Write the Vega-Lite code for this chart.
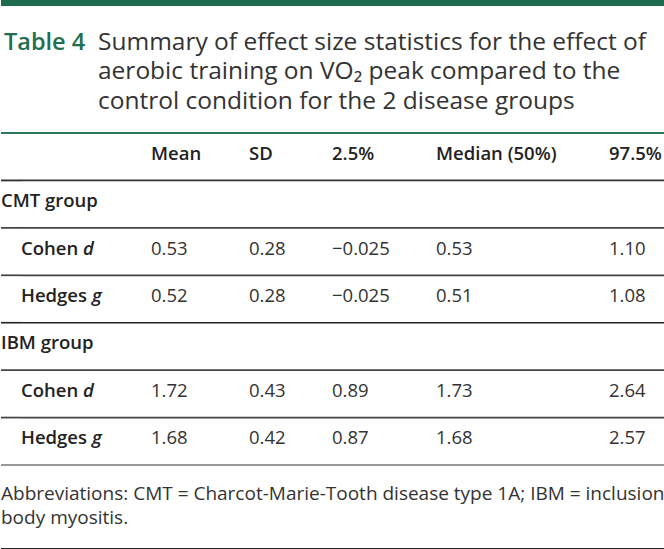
{
  "$schema": "https://vega.github.io/schema/vega-lite/v6.json",
  "padding": 0,
  "spacing": 0,
  "background": "#ffffff",
  "config": {
    "view": {"stroke": null},
    "font": "Open Sans",
    "text": {"font": "Open Sans"}
  },
  "datasets": {
    "title": [
      {"line": 1, "part": "label", "text": "Table 4"},
      {"line": 1, "part": "caption", "text": "Summary of effect size statistics for the effect of"},
      {"line": 2, "part": "caption", "text": "aerobic training on VO₂ peak compared to the"},
      {"line": 3, "part": "caption", "text": "control condition for the 2 disease groups"}
    ],
    "header": [
      {"row": "h", "col": "mean", "label": "Mean"},
      {"row": "h", "col": "sd", "label": "SD"},
      {"row": "h", "col": "p025", "label": "2.5%"},
      {"row": "h", "col": "median", "label": "Median (50%)"},
      {"row": "h", "col": "p975", "label": "97.5%"}
    ],
    "groups": [
      {"row": "cmt", "label": "CMT group"},
      {"row": "ibm", "label": "IBM group"}
    ],
    "stats": [
      {"row": "cmt_d", "measure": "Cohen", "letter": "d", "mean": 0.53, "sd": 0.28, "p025": -0.025, "median": 0.53, "p975": 1.10},
      {"row": "cmt_g", "measure": "Hedges", "letter": "g", "mean": 0.52, "sd": 0.28, "p025": -0.025, "median": 0.51, "p975": 1.08},
      {"row": "ibm_d", "measure": "Cohen", "letter": "d", "mean": 1.72, "sd": 0.43, "p025": 0.89, "median": 1.73, "p975": 2.64},
      {"row": "ibm_g", "measure": "Hedges", "letter": "g", "mean": 1.68, "sd": 0.42, "p025": 0.87, "median": 1.68, "p975": 2.57}
    ],
    "lines": [
      {"row": "h", "kind": "top"},
      {"row": "h", "kind": "head"},
      {"row": "cmt", "kind": "thin"},
      {"row": "cmt_d", "kind": "thin"},
      {"row": "cmt_g", "kind": "thick"},
      {"row": "ibm", "kind": "thin"},
      {"row": "ibm_d", "kind": "thin"},
      {"row": "ibm_g", "kind": "end"}
    ],
    "note": [
      {"line": 1, "text": "Abbreviations: CMT = Charcot-Marie-Tooth disease type 1A; IBM = inclusion"},
      {"line": 2, "text": "body myositis."}
    ],
    "bar": [{"part": "bar"}]
  },
  "vconcat": [
    {
      "width": 664, "height": 6,
      "data": {"name": "bar"},
      "mark": {"type": "rect", "color": "#1d6b4d"},
      "encoding": {"x": {"value": 0}, "x2": {"value": "width"}, "y": {"value": 0}, "y2": {"value": "height"}}
    },
    {
      "spacing": 0,
      "bounds": "flush",
      "hconcat": [
        {
          "width": 97, "height": 126,
          "data": {"name": "title"},
          "transform": [{"filter": "datum.part === 'label'"}],
          "mark": {"type": "text", "align": "left", "baseline": "alphabetic", "font": "Open Sans", "fontSize": 23.5, "fontWeight": 600, "color": "#1f6e4f"},
          "encoding": {
            "x": {"value": 3},
            "y": {"field": "line", "type": "quantitative", "scale": {"domain": [-0.4915, 3.7797], "reverse": true, "zero": false, "nice": false}, "axis": null},
            "text": {"field": "text"}
          }
        },
        {
          "width": 567, "height": 126,
          "data": {"name": "title"},
          "transform": [{"filter": "datum.part === 'caption'"}],
          "mark": {"type": "text", "align": "left", "baseline": "alphabetic", "font": "Open Sans", "fontSize": 24.5, "color": "#333333"},
          "encoding": {
            "x": {"value": 0},
            "y": {"field": "line", "type": "quantitative", "scale": {"domain": [-0.4915, 3.7797], "reverse": true, "zero": false, "nice": false}, "axis": null},
            "text": {"field": "text"}
          }
        }
      ]
    },
    {
      "spacing": 0,
      "bounds": "flush",
      "hconcat": [
        {
          "width": 20, "height": 332,
          "layer": [
            {"data": {"name": "lines"}, "transform": [{"filter": "datum.kind === 'top'"}], "mark": {"type": "rule"},
             "encoding": {"y": {"field": "row", "type": "nominal", "bandPosition": 0, "scale": {"type": "band", "domain": ["h", "cmt", "cmt_d", "cmt_g", "ibm", "ibm_d", "ibm_g"], "paddingInner": 0, "paddingOuter": 0}, "axis": null},
              "color": {"field": "kind", "type": "nominal", "scale": {"domain": ["top", "head", "thin", "thick", "end"], "range": ["#2b7a5a", "#333333", "#444444", "#222222", "#777777"]}, "legend": null},
              "strokeWidth": {"field": "kind", "type": "ordinal", "scale": {"domain": ["top", "head", "thin", "thick", "end"], "range": [2, 1.5, 1.5, 2, 2]}, "legend": null}}},
            {"data": {"name": "lines"}, "transform": [{"filter": "datum.kind !== 'top'"}], "mark": {"type": "rule"},
             "encoding": {"y": {"field": "row", "type": "nominal", "bandPosition": 1, "scale": {"type": "band", "domain": ["h", "cmt", "cmt_d", "cmt_g", "ibm", "ibm_d", "ibm_g"], "paddingInner": 0, "paddingOuter": 0}, "axis": null},
              "color": {"field": "kind", "type": "nominal", "scale": {"domain": ["top", "head", "thin", "thick", "end"], "range": ["#2b7a5a", "#333333", "#444444", "#222222", "#777777"]}, "legend": null},
              "strokeWidth": {"field": "kind", "type": "ordinal", "scale": {"domain": ["top", "head", "thin", "thick", "end"], "range": [2, 1.5, 1.5, 2, 2]}, "legend": null}}},
            {"data": {"name": "groups"}, "mark": {"type": "text", "align": "left", "baseline": "middle", "dy": -3, "font": "Open Sans", "fontSize": 18.5, "fontWeight": 600, "color": "#222222"},
             "encoding": {"x": {"value": 0}, "y": {"field": "row", "type": "nominal", "scale": {"type": "band", "domain": ["h", "cmt", "cmt_d", "cmt_g", "ibm", "ibm_d", "ibm_g"], "paddingInner": 0, "paddingOuter": 0}, "axis": null}, "text": {"field": "label"}}}
          ]
        },
        {
          "width": 130, "height": 332,
          "layer": [
            {"data": {"name": "lines"}, "transform": [{"filter": "datum.kind === 'top'"}], "mark": {"type": "rule"},
             "encoding": {"y": {"field": "row", "type": "nominal", "bandPosition": 0, "scale": {"type": "band", "domain": ["h", "cmt", "cmt_d", "cmt_g", "ibm", "ibm_d", "ibm_g"], "paddingInner": 0, "paddingOuter": 0}, "axis": null},
              "color": {"field": "kind", "type": "nominal", "scale": {"domain": ["top", "head", "thin", "thick", "end"], "range": ["#2b7a5a", "#333333", "#444444", "#222222", "#777777"]}, "legend": null},
              "strokeWidth": {"field": "kind", "type": "ordinal", "scale": {"domain": ["top", "head", "thin", "thick", "end"], "range": [2, 1.5, 1.5, 2, 2]}, "legend": null}}},
            {"data": {"name": "lines"}, "transform": [{"filter": "datum.kind !== 'top'"}], "mark": {"type": "rule"},
             "encoding": {"y": {"field": "row", "type": "nominal", "bandPosition": 1, "scale": {"type": "band", "domain": ["h", "cmt", "cmt_d", "cmt_g", "ibm", "ibm_d", "ibm_g"], "paddingInner": 0, "paddingOuter": 0}, "axis": null},
              "color": {"field": "kind", "type": "nominal", "scale": {"domain": ["top", "head", "thin", "thick", "end"], "range": ["#2b7a5a", "#333333", "#444444", "#222222", "#777777"]}, "legend": null},
              "strokeWidth": {"field": "kind", "type": "ordinal", "scale": {"domain": ["top", "head", "thin", "thick", "end"], "range": [2, 1.5, 1.5, 2, 2]}, "legend": null}}},
            {"data": {"name": "stats"}, "mark": {"type": "text", "align": "left", "baseline": "middle", "dy": -3, "font": "Open Sans", "fontSize": 18.5, "fontWeight": 600, "color": "#222222"},
             "encoding": {"x": {"value": 0}, "y": {"field": "row", "type": "nominal", "scale": {"type": "band", "domain": ["h", "cmt", "cmt_d", "cmt_g", "ibm", "ibm_d", "ibm_g"], "paddingInner": 0, "paddingOuter": 0}, "axis": null}, "text": {"field": "measure"}}},
            {"data": {"name": "stats"}, "mark": {"type": "text", "align": "left", "baseline": "middle", "dy": -3, "font": "Open Sans", "fontSize": 18.5, "fontWeight": 600, "fontStyle": "italic", "color": "#222222"},
             "encoding": {"x": {"field": "measure", "type": "nominal", "scale": {"type": "point", "domain": ["Cohen", "Hedges"], "range": [62, 71], "padding": 0}, "axis": null}, "y": {"field": "row", "type": "nominal", "scale": {"type": "band", "domain": ["h", "cmt", "cmt_d", "cmt_g", "ibm", "ibm_d", "ibm_g"], "paddingInner": 0, "paddingOuter": 0}, "axis": null}, "text": {"field": "letter"}}}
          ]
        },
        {
          "width": 98, "height": 332,
          "layer": [
            {"data": {"name": "lines"}, "transform": [{"filter": "datum.kind === 'top'"}], "mark": {"type": "rule"},
             "encoding": {"y": {"field": "row", "type": "nominal", "bandPosition": 0, "scale": {"type": "band", "domain": ["h", "cmt", "cmt_d", "cmt_g", "ibm", "ibm_d", "ibm_g"], "paddingInner": 0, "paddingOuter": 0}, "axis": null},
              "color": {"field": "kind", "type": "nominal", "scale": {"domain": ["top", "head", "thin", "thick", "end"], "range": ["#2b7a5a", "#333333", "#444444", "#222222", "#777777"]}, "legend": null},
              "strokeWidth": {"field": "kind", "type": "ordinal", "scale": {"domain": ["top", "head", "thin", "thick", "end"], "range": [2, 1.5, 1.5, 2, 2]}, "legend": null}}},
            {"data": {"name": "lines"}, "transform": [{"filter": "datum.kind !== 'top'"}], "mark": {"type": "rule"},
             "encoding": {"y": {"field": "row", "type": "nominal", "bandPosition": 1, "scale": {"type": "band", "domain": ["h", "cmt", "cmt_d", "cmt_g", "ibm", "ibm_d", "ibm_g"], "paddingInner": 0, "paddingOuter": 0}, "axis": null},
              "color": {"field": "kind", "type": "nominal", "scale": {"domain": ["top", "head", "thin", "thick", "end"], "range": ["#2b7a5a", "#333333", "#444444", "#222222", "#777777"]}, "legend": null},
              "strokeWidth": {"field": "kind", "type": "ordinal", "scale": {"domain": ["top", "head", "thin", "thick", "end"], "range": [2, 1.5, 1.5, 2, 2]}, "legend": null}}},
            {"data": {"name": "header"}, "transform": [{"filter": "datum.col === 'mean'"}], "mark": {"type": "text", "align": "left", "baseline": "middle", "dy": -3, "font": "Open Sans", "fontSize": 18.5, "fontWeight": 600, "color": "#222222"},
             "encoding": {"x": {"value": 0}, "y": {"field": "row", "type": "nominal", "scale": {"type": "band", "domain": ["h", "cmt", "cmt_d", "cmt_g", "ibm", "ibm_d", "ibm_g"], "paddingInner": 0, "paddingOuter": 0}, "axis": null}, "text": {"field": "label"}}},
            {"data": {"name": "stats"}, "mark": {"type": "text", "align": "left", "baseline": "middle", "dy": -3, "font": "Open Sans", "fontSize": 18.5, "color": "#333333"},
             "encoding": {"x": {"value": 0}, "y": {"field": "row", "type": "nominal", "scale": {"type": "band", "domain": ["h", "cmt", "cmt_d", "cmt_g", "ibm", "ibm_d", "ibm_g"], "paddingInner": 0, "paddingOuter": 0}, "axis": null}, "text": {"field": "mean", "type": "quantitative", "format": ".2f"}}}
          ]
        },
        {
          "width": 83, "height": 332,
          "layer": [
            {"data": {"name": "lines"}, "transform": [{"filter": "datum.kind === 'top'"}], "mark": {"type": "rule"},
             "encoding": {"y": {"field": "row", "type": "nominal", "bandPosition": 0, "scale": {"type": "band", "domain": ["h", "cmt", "cmt_d", "cmt_g", "ibm", "ibm_d", "ibm_g"], "paddingInner": 0, "paddingOuter": 0}, "axis": null},
              "color": {"field": "kind", "type": "nominal", "scale": {"domain": ["top", "head", "thin", "thick", "end"], "range": ["#2b7a5a", "#333333", "#444444", "#222222", "#777777"]}, "legend": null},
              "strokeWidth": {"field": "kind", "type": "ordinal", "scale": {"domain": ["top", "head", "thin", "thick", "end"], "range": [2, 1.5, 1.5, 2, 2]}, "legend": null}}},
            {"data": {"name": "lines"}, "transform": [{"filter": "datum.kind !== 'top'"}], "mark": {"type": "rule"},
             "encoding": {"y": {"field": "row", "type": "nominal", "bandPosition": 1, "scale": {"type": "band", "domain": ["h", "cmt", "cmt_d", "cmt_g", "ibm", "ibm_d", "ibm_g"], "paddingInner": 0, "paddingOuter": 0}, "axis": null},
              "color": {"field": "kind", "type": "nominal", "scale": {"domain": ["top", "head", "thin", "thick", "end"], "range": ["#2b7a5a", "#333333", "#444444", "#222222", "#777777"]}, "legend": null},
              "strokeWidth": {"field": "kind", "type": "ordinal", "scale": {"domain": ["top", "head", "thin", "thick", "end"], "range": [2, 1.5, 1.5, 2, 2]}, "legend": null}}},
            {"data": {"name": "header"}, "transform": [{"filter": "datum.col === 'sd'"}], "mark": {"type": "text", "align": "left", "baseline": "middle", "dy": -3, "font": "Open Sans", "fontSize": 18.5, "fontWeight": 600, "color": "#222222"},
             "encoding": {"x": {"value": 0}, "y": {"field": "row", "type": "nominal", "scale": {"type": "band", "domain": ["h", "cmt", "cmt_d", "cmt_g", "ibm", "ibm_d", "ibm_g"], "paddingInner": 0, "paddingOuter": 0}, "axis": null}, "text": {"field": "label"}}},
            {"data": {"name": "stats"}, "mark": {"type": "text", "align": "left", "baseline": "middle", "dy": -3, "font": "Open Sans", "fontSize": 18.5, "color": "#333333"},
             "encoding": {"x": {"value": 0}, "y": {"field": "row", "type": "nominal", "scale": {"type": "band", "domain": ["h", "cmt", "cmt_d", "cmt_g", "ibm", "ibm_d", "ibm_g"], "paddingInner": 0, "paddingOuter": 0}, "axis": null}, "text": {"field": "sd", "type": "quantitative", "format": ".2f"}}}
          ]
        },
        {
          "width": 104, "height": 332,
          "layer": [
            {"data": {"name": "lines"}, "transform": [{"filter": "datum.kind === 'top'"}], "mark": {"type": "rule"},
             "encoding": {"y": {"field": "row", "type": "nominal", "bandPosition": 0, "scale": {"type": "band", "domain": ["h", "cmt", "cmt_d", "cmt_g", "ibm", "ibm_d", "ibm_g"], "paddingInner": 0, "paddingOuter": 0}, "axis": null},
              "color": {"field": "kind", "type": "nominal", "scale": {"domain": ["top", "head", "thin", "thick", "end"], "range": ["#2b7a5a", "#333333", "#444444", "#222222", "#777777"]}, "legend": null},
              "strokeWidth": {"field": "kind", "type": "ordinal", "scale": {"domain": ["top", "head", "thin", "thick", "end"], "range": [2, 1.5, 1.5, 2, 2]}, "legend": null}}},
            {"data": {"name": "lines"}, "transform": [{"filter": "datum.kind !== 'top'"}], "mark": {"type": "rule"},
             "encoding": {"y": {"field": "row", "type": "nominal", "bandPosition": 1, "scale": {"type": "band", "domain": ["h", "cmt", "cmt_d", "cmt_g", "ibm", "ibm_d", "ibm_g"], "paddingInner": 0, "paddingOuter": 0}, "axis": null},
              "color": {"field": "kind", "type": "nominal", "scale": {"domain": ["top", "head", "thin", "thick", "end"], "range": ["#2b7a5a", "#333333", "#444444", "#222222", "#777777"]}, "legend": null},
              "strokeWidth": {"field": "kind", "type": "ordinal", "scale": {"domain": ["top", "head", "thin", "thick", "end"], "range": [2, 1.5, 1.5, 2, 2]}, "legend": null}}},
            {"data": {"name": "header"}, "transform": [{"filter": "datum.col === 'p025'"}], "mark": {"type": "text", "align": "left", "baseline": "middle", "dy": -3, "font": "Open Sans", "fontSize": 18.5, "fontWeight": 600, "color": "#222222"},
             "encoding": {"x": {"value": 0}, "y": {"field": "row", "type": "nominal", "scale": {"type": "band", "domain": ["h", "cmt", "cmt_d", "cmt_g", "ibm", "ibm_d", "ibm_g"], "paddingInner": 0, "paddingOuter": 0}, "axis": null}, "text": {"field": "label"}}},
            {"data": {"name": "stats"}, "mark": {"type": "text", "align": "left", "baseline": "middle", "dy": -3, "font": "Open Sans", "fontSize": 18.5, "color": "#333333"},
             "encoding": {"x": {"value": 0}, "y": {"field": "row", "type": "nominal", "scale": {"type": "band", "domain": ["h", "cmt", "cmt_d", "cmt_g", "ibm", "ibm_d", "ibm_g"], "paddingInner": 0, "paddingOuter": 0}, "axis": null}, "text": {"field": "p025", "type": "quantitative", "format": "~g"}}}
          ]
        },
        {
          "width": 173, "height": 332,
          "layer": [
            {"data": {"name": "lines"}, "transform": [{"filter": "datum.kind === 'top'"}], "mark": {"type": "rule"},
             "encoding": {"y": {"field": "row", "type": "nominal", "bandPosition": 0, "scale": {"type": "band", "domain": ["h", "cmt", "cmt_d", "cmt_g", "ibm", "ibm_d", "ibm_g"], "paddingInner": 0, "paddingOuter": 0}, "axis": null},
              "color": {"field": "kind", "type": "nominal", "scale": {"domain": ["top", "head", "thin", "thick", "end"], "range": ["#2b7a5a", "#333333", "#444444", "#222222", "#777777"]}, "legend": null},
              "strokeWidth": {"field": "kind", "type": "ordinal", "scale": {"domain": ["top", "head", "thin", "thick", "end"], "range": [2, 1.5, 1.5, 2, 2]}, "legend": null}}},
            {"data": {"name": "lines"}, "transform": [{"filter": "datum.kind !== 'top'"}], "mark": {"type": "rule"},
             "encoding": {"y": {"field": "row", "type": "nominal", "bandPosition": 1, "scale": {"type": "band", "domain": ["h", "cmt", "cmt_d", "cmt_g", "ibm", "ibm_d", "ibm_g"], "paddingInner": 0, "paddingOuter": 0}, "axis": null},
              "color": {"field": "kind", "type": "nominal", "scale": {"domain": ["top", "head", "thin", "thick", "end"], "range": ["#2b7a5a", "#333333", "#444444", "#222222", "#777777"]}, "legend": null},
              "strokeWidth": {"field": "kind", "type": "ordinal", "scale": {"domain": ["top", "head", "thin", "thick", "end"], "range": [2, 1.5, 1.5, 2, 2]}, "legend": null}}},
            {"data": {"name": "header"}, "transform": [{"filter": "datum.col === 'median'"}], "mark": {"type": "text", "align": "left", "baseline": "middle", "dy": -3, "font": "Open Sans", "fontSize": 18.5, "fontWeight": 600, "color": "#222222"},
             "encoding": {"x": {"value": 0}, "y": {"field": "row", "type": "nominal", "scale": {"type": "band", "domain": ["h", "cmt", "cmt_d", "cmt_g", "ibm", "ibm_d", "ibm_g"], "paddingInner": 0, "paddingOuter": 0}, "axis": null}, "text": {"field": "label"}}},
            {"data": {"name": "stats"}, "mark": {"type": "text", "align": "left", "baseline": "middle", "dy": -3, "font": "Open Sans", "fontSize": 18.5, "color": "#333333"},
             "encoding": {"x": {"value": 0}, "y": {"field": "row", "type": "nominal", "scale": {"type": "band", "domain": ["h", "cmt", "cmt_d", "cmt_g", "ibm", "ibm_d", "ibm_g"], "paddingInner": 0, "paddingOuter": 0}, "axis": null}, "text": {"field": "median", "type": "quantitative", "format": ".2f"}}}
          ]
        },
        {
          "width": 56, "height": 332,
          "layer": [
            {"data": {"name": "lines"}, "transform": [{"filter": "datum.kind === 'top'"}], "mark": {"type": "rule"},
             "encoding": {"y": {"field": "row", "type": "nominal", "bandPosition": 0, "scale": {"type": "band", "domain": ["h", "cmt", "cmt_d", "cmt_g", "ibm", "ibm_d", "ibm_g"], "paddingInner": 0, "paddingOuter": 0}, "axis": null},
              "color": {"field": "kind", "type": "nominal", "scale": {"domain": ["top", "head", "thin", "thick", "end"], "range": ["#2b7a5a", "#333333", "#444444", "#222222", "#777777"]}, "legend": null},
              "strokeWidth": {"field": "kind", "type": "ordinal", "scale": {"domain": ["top", "head", "thin", "thick", "end"], "range": [2, 1.5, 1.5, 2, 2]}, "legend": null}}},
            {"data": {"name": "lines"}, "transform": [{"filter": "datum.kind !== 'top'"}], "mark": {"type": "rule"},
             "encoding": {"y": {"field": "row", "type": "nominal", "bandPosition": 1, "scale": {"type": "band", "domain": ["h", "cmt", "cmt_d", "cmt_g", "ibm", "ibm_d", "ibm_g"], "paddingInner": 0, "paddingOuter": 0}, "axis": null},
              "color": {"field": "kind", "type": "nominal", "scale": {"domain": ["top", "head", "thin", "thick", "end"], "range": ["#2b7a5a", "#333333", "#444444", "#222222", "#777777"]}, "legend": null},
              "strokeWidth": {"field": "kind", "type": "ordinal", "scale": {"domain": ["top", "head", "thin", "thick", "end"], "range": [2, 1.5, 1.5, 2, 2]}, "legend": null}}},
            {"data": {"name": "header"}, "transform": [{"filter": "datum.col === 'p975'"}], "mark": {"type": "text", "align": "left", "baseline": "middle", "dy": -3, "font": "Open Sans", "fontSize": 18.5, "fontWeight": 600, "color": "#222222"},
             "encoding": {"x": {"value": 0}, "y": {"field": "row", "type": "nominal", "scale": {"type": "band", "domain": ["h", "cmt", "cmt_d", "cmt_g", "ibm", "ibm_d", "ibm_g"], "paddingInner": 0, "paddingOuter": 0}, "axis": null}, "text": {"field": "label"}}},
            {"data": {"name": "stats"}, "mark": {"type": "text", "align": "left", "baseline": "middle", "dy": -3, "font": "Open Sans", "fontSize": 18.5, "color": "#333333"},
             "encoding": {"x": {"value": 0}, "y": {"field": "row", "type": "nominal", "scale": {"type": "band", "domain": ["h", "cmt", "cmt_d", "cmt_g", "ibm", "ibm_d", "ibm_g"], "paddingInner": 0, "paddingOuter": 0}, "axis": null}, "text": {"field": "p975", "type": "quantitative", "format": ".2f"}}}
          ]
        }
      ]
    },
    {
      "width": 664, "height": 82,
      "data": {"name": "note"},
      "mark": {"type": "text", "align": "left", "baseline": "alphabetic", "font": "Open Sans", "fontSize": 19, "color": "#333333"},
      "encoding": {
        "x": {"value": 0},
        "y": {"field": "line", "type": "quantitative", "scale": {"domain": [-0.4167, 3.0], "reverse": true, "zero": false, "nice": false}, "axis": null},
        "text": {"field": "text"}
      }
    },
    {
      "width": 664, "height": 3,
      "data": {"name": "bar"},
      "mark": {"type": "rect", "color": "#222222"},
      "encoding": {"x": {"value": 0}, "x2": {"value": "width"}, "y": {"value": 0}, "y2": {"value": "height"}}
    }
  ]
}
